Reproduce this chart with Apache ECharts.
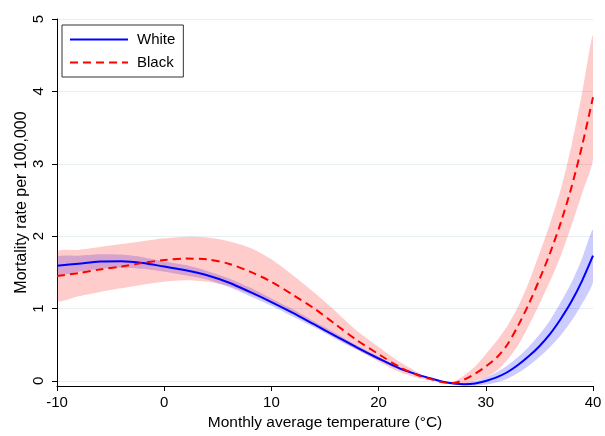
<!DOCTYPE html>
<html>
<head>
<meta charset="utf-8">
<script src="https://cdn.jsdelivr.net/npm/echarts@6/dist/echarts.min.js"></script>
<style>
html,body{margin:0;padding:0;background:#fff;}
#chart{width:605px;height:436px;}
</style>
</head>
<body>
<div id="chart"></div>
<script>
// Temperatures (°C)
var temps = [-10,-8,-6,-4,-2,0,2,4,6,8,10,12,14,16,18,20,22,24,25,26,27,28,29,30,31,32,33,34,35,36,37,38,39,40];
// White: estimate and confidence band
var whiteMean = [1.59,1.62,1.65,1.655,1.63,1.58,1.53,1.46,1.36,1.23,1.09,0.94,0.78,0.62,0.46,0.31,0.17,0.07,0.03,-0.01,-0.035,-0.045,-0.035,0.0,0.05,0.12,0.22,0.34,0.48,0.65,0.86,1.1,1.39,1.73];
var whiteLow  = [1.47,1.51,1.55,1.565,1.55,1.51,1.46,1.40,1.30,1.17,1.04,0.89,0.74,0.58,0.43,0.285,0.15,0.06,0.025,-0.01,-0.045,-0.065,-0.065,-0.05,-0.02,0.03,0.11,0.21,0.33,0.47,0.63,0.83,1.07,1.37];
var whiteHigh = [1.71,1.73,1.75,1.745,1.71,1.65,1.60,1.52,1.42,1.29,1.14,0.99,0.82,0.66,0.49,0.335,0.19,0.08,0.035,-0.01,-0.025,-0.025,-0.005,0.05,0.12,0.21,0.33,0.47,0.64,0.84,1.09,1.36,1.70,2.09];
// Black: estimate and confidence band
var blackMean = [1.45,1.49,1.54,1.58,1.63,1.67,1.69,1.68,1.62,1.51,1.37,1.19,1.00,0.78,0.56,0.37,0.19,0.06,0.02,-0.02,-0.03,0.02,0.10,0.20,0.32,0.50,0.76,1.06,1.40,1.77,2.19,2.68,3.26,3.92];
var blackLow  = [1.11,1.17,1.23,1.28,1.33,1.37,1.39,1.37,1.31,1.20,1.08,0.94,0.78,0.60,0.43,0.27,0.12,0.03,0.005,-0.02,-0.05,-0.04,0.0,0.05,0.14,0.29,0.49,0.76,1.06,1.38,1.73,2.15,2.60,3.07];
var blackHigh = [1.78,1.81,1.85,1.89,1.93,1.97,1.99,1.98,1.93,1.84,1.68,1.46,1.22,0.96,0.69,0.47,0.26,0.09,0.035,-0.02,-0.01,0.08,0.20,0.37,0.55,0.76,1.02,1.36,1.76,2.18,2.65,3.26,3.99,4.77];
// Tick values
var xTicks = [-10,0,10,20,30,40];
var yTicks = [0,1,2,3,4,5];

function pairs(ys){ return temps.map(function(t,i){ return [t, ys[i]]; }); }
function bandData(lo, hi){ return temps.map(function(t,i){ return [t, lo[i], hi[i]]; }); }

function bandRenderer(lo, hi, fill){
  return function(params, api){
    if (params.dataIndex !== 0) return null;
    var pts = [];
    for (var i = 0; i < temps.length; i++) pts.push(api.coord([temps[i], hi[i]]));
    for (var j = temps.length - 1; j >= 0; j--) pts.push(api.coord([temps[j], lo[j]]));
    return {
      type:'polygon',
      shape:{points:pts, smooth:0.25},
      style:{fill:fill, stroke:null},
      silent:true
    };
  };
}

var FONT = "'Liberation Sans', Arial, Helvetica, sans-serif";
var chart = echarts.init(document.getElementById('chart'), null, {renderer:'canvas'});
chart.setOption({
  animation:false,
  backgroundColor:'#ffffff',
  textStyle:{fontFamily:FONT},
  grid:{left:57, right:12, top:19, bottom:48, containLabel:false},
  legend:{
    data:['White','Black'],
    orient:'vertical', left:62, top:25,
    padding:[7,8,7,7], itemGap:8, itemWidth:58, itemHeight:14,
    borderColor:'#333', borderWidth:1, backgroundColor:'#fff',
    itemStyle:{opacity:0},
    textStyle:{fontSize:15, color:'#000', fontFamily:FONT, padding:[0,0,0,4]}
  },
  xAxis:{
    type:'value', min:-10, max:40, interval:10,
    name:'Monthly average temperature (°C)', nameLocation:'middle', nameGap:29,
    nameMoveOverlap:false,
    nameTextStyle:{fontSize:15.5, color:'#000', fontFamily:FONT},
    axisLine:{show:true, onZero:false, lineStyle:{color:'#000', width:1}},
    axisTick:{show:true, length:5, lineStyle:{color:'#000'}},
    axisLabel:{fontSize:15, color:'#000', margin:9, fontFamily:FONT},
    splitLine:{show:false}
  },
  yAxis:{
    type:'value', min:-0.07, max:5,
    name:'Mortality rate per 100,000', nameLocation:'middle', nameGap:27,
    nameMoveOverlap:false,
    nameTextStyle:{fontSize:16, color:'#000', fontFamily:FONT},
    axisLine:{show:true, onZero:false, lineStyle:{color:'#000', width:1}},
    axisTick:{show:true, length:5, customValues:yTicks, lineStyle:{color:'#000'}},
    axisLabel:{fontSize:15, color:'#000', rotate:90, margin:11, customValues:yTicks, fontFamily:FONT},
    splitLine:{show:true, lineStyle:{color:'#e6eef0', width:1}}
  },
  series:[
    {name:'wband', type:'custom', clip:true, data:bandData(whiteLow, whiteHigh), encode:{x:0, y:[1,2]}, renderItem:bandRenderer(whiteLow, whiteHigh, 'rgba(0,0,255,0.2)'), silent:true},
    {name:'White', type:'line', data:pairs(whiteMean), smooth:0.3, symbol:'none', showSymbol:false, color:'#0000ff', lineStyle:{color:'#0000ff', width:2}},
    {name:'bband', type:'custom', clip:true, data:bandData(blackLow, blackHigh), encode:{x:0, y:[1,2]}, renderItem:bandRenderer(blackLow, blackHigh, 'rgba(255,0,0,0.2)'), silent:true},
    {name:'Black', type:'line', data:pairs(blackMean), smooth:0.3, symbol:'none', showSymbol:false, color:'#ff0000', lineStyle:{color:'#ff0000', width:2, type:[8,5]}}
  ]
});
</script>
</body>
</html>
